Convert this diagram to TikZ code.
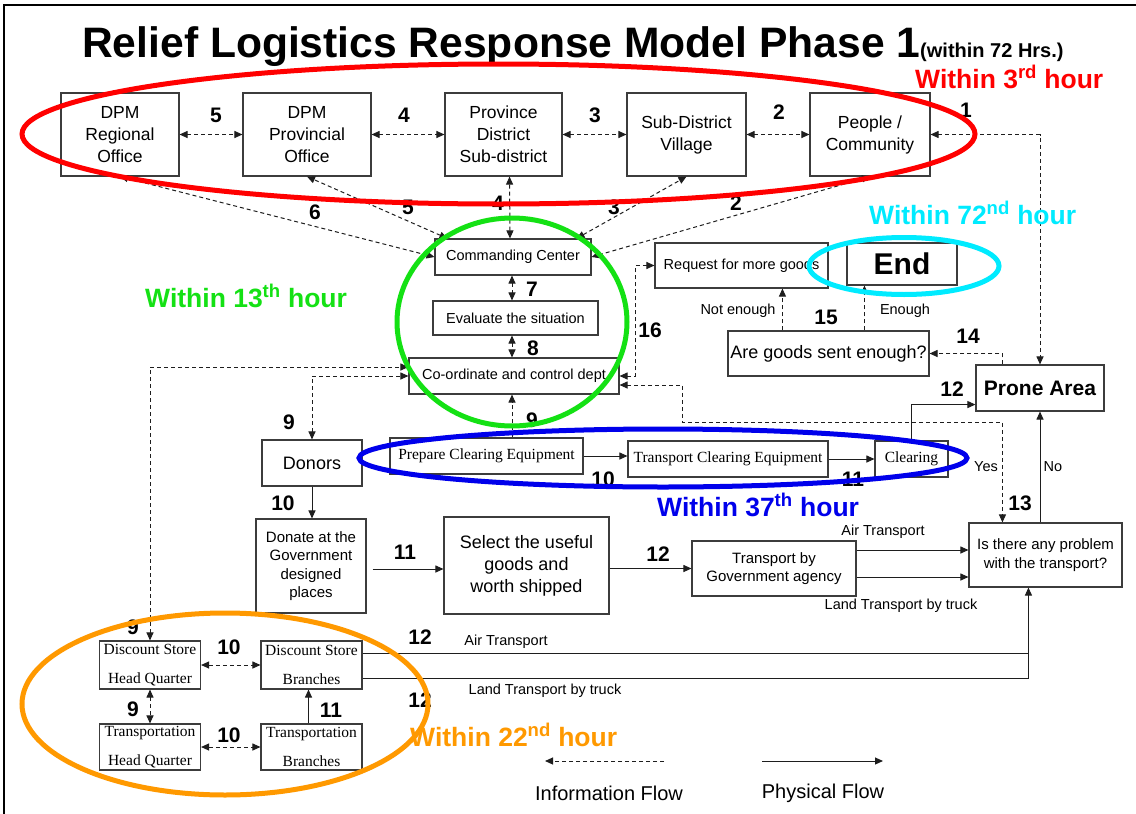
\documentclass[tikz,border=0pt]{standalone}
\usepackage{fontspec}
\setmainfont{Liberation Sans}
\newfontfamily\serifface{Liberation Serif}
\usetikzlibrary{arrows.meta,calc}
\definecolor{boxgray}{RGB}{60,60,60}
\definecolor{lnk}{RGB}{30,30,30}
\definecolor{cRed}{RGB}{255,0,0}
\definecolor{cGreen}{RGB}{20,225,20}
\definecolor{cCyan}{RGB}{0,235,255}
\definecolor{cBlue}{RGB}{0,0,235}
\definecolor{cOrange}{RGB}{255,153,0}
\newcommand\fsz[2]{\fontsize{#1}{#2}\selectfont}
\begin{document}
\begin{tikzpicture}[x=1pt,y=-1pt,
  box/.style={draw=boxgray, line width=1.1pt, fill=white, inner sep=0pt, align=center},
  toptxt/.style={font=\fsz{17.5}{22}},
  smalltxt/.style={font=\fsz{14.5}{18.5}},
  sertxt/.style={font=\serifface\fsz{15.5}{20}},
  num/.style={font=\fsz{21}{24}\bfseries, inner sep=0pt},
  lbl/.style={font=\fsz{14.5}{17}, inner sep=0pt},
  within/.style={font=\fsz{26.5}{30}\bfseries, anchor=base west, inner sep=0pt},
  info/.style={draw=lnk, line width=1pt, dash pattern=on 4pt off 3pt, {Triangle[length=8pt,width=7pt]}-{Triangle[length=8pt,width=7pt]}},
  infoone/.style={draw=lnk, line width=1pt, dash pattern=on 4pt off 3pt, -{Triangle[length=8pt,width=7pt]}},
  phys/.style={draw=lnk, line width=1pt, -{Triangle[length=8pt,width=7pt]}},
  plain/.style={draw=lnk, line width=1pt},
  ring/.style={line width=5pt}
]
\useasboundingbox (0,0) rectangle (1136,814);
\fill[white] (0,0) rectangle (1136,814);
\draw[line width=2pt] (4,814) -- (4,5) -- (1136,5);

% title
\node[anchor=base west, inner sep=0pt, font=\fsz{42.6}{50}\bfseries] (title) at (82,57)
  {Relief Logistics Response Model Phase 1{\fsz{20}{24}(within 72 Hrs.)}};

% top row
\node[box,toptxt,minimum width=118pt,minimum height=83pt] (b1) at (120,134.5) {DPM\\Regional\\Office};
\node[box,toptxt,minimum width=128pt,minimum height=83pt] (b2) at (307,134.5) {DPM\\Provincial\\Office};
\node[box,toptxt,minimum width=117pt,minimum height=83pt] (b3) at (503.5,134.5) {Province\\District\\Sub-district};
\node[box,toptxt,minimum width=119pt,minimum height=83pt] (b4) at (686.5,134.5) {Sub-District\\Village};
\node[box,toptxt,minimum width=120pt,minimum height=83pt] (b5) at (870,134.5) {People /\\Community};

% centre column
\node[box,smalltxt,minimum width=156pt,minimum height=36pt] (cc) at (513,257) {Commanding Center};
\node[box,smalltxt,minimum width=165pt,minimum height=34pt] (ev) at (515.5,318) {Evaluate the situation};
\node[box,smalltxt,minimum width=210pt,minimum height=36pt] (co) at (514,376) {Co-ordinate and control dept};
\node[box,font=\fsz{18}{22},minimum width=100pt,minimum height=46pt] (donors) at (312,463) {Donors};
\node[box,sertxt,minimum width=193pt,minimum height=36pt] (prep) at (486.5,456) {Prepare Clearing Equipment};
\node[box,sertxt,minimum width=200pt,minimum height=36pt] (tce) at (728,459) {Transport Clearing Equipment};
\node[box,sertxt,minimum width=73pt,minimum height=36pt] (clr) at (911.5,459) {Clearing};

% right side
\node[box,smalltxt,minimum width=173pt,minimum height=45pt] (req) at (741.5,265.5) {Request for more goods};
\node[box,font=\fsz{30}{34}\bfseries,minimum width=110pt,minimum height=42pt] (end) at (902,264) {End};
\node[box,font=\fsz{18}{22},minimum width=201pt,minimum height=45pt] (goods) at (828.5,353.5) {Are goods sent enough?};
\node[box,font=\fsz{21}{24}\bfseries,minimum width=128pt,minimum height=46pt] (prone) at (1040,388) {Prone Area};

% lower middle
\node[box,font=\fsz{15}{18.5},minimum width=110pt,minimum height=94pt] (donate) at (311,566) {Donate at the\\Government\\designed\\places};
\node[box,font=\fsz{18}{22},minimum width=165pt,minimum height=97pt] (select) at (526.5,565.5) {Select the useful\\goods and\\worth shipped};
\node[box,font=\fsz{15}{18.5},minimum width=164pt,minimum height=55pt] (tgov) at (774,568.5) {Transport by\\Government agency};
\node[box,font=\fsz{15}{19},minimum width=153pt,minimum height=64pt] (prob) at (1045.5,555) {Is there any problem\\with the transport?};

% bottom-left
\node[box,sertxt,minimum width=101pt,minimum height=48pt] (dshq) at (150,665) {Discount Store\\[9pt]Head Quarter};
\node[box,sertxt,minimum width=101pt,minimum height=48pt] (dsbr) at (311.5,665) {Discount Store\\[9pt]Branches};
\node[box,sertxt,minimum width=101pt,minimum height=46pt] (tshq) at (150,747) {Transportation\\[9pt]Head Quarter};
\node[box,sertxt,minimum width=101pt,minimum height=46pt] (tsbr) at (311.5,747) {Transportation\\[9pt]Branches};

% ---- information flow (dashed)
\draw[info] (b1.east) -- (b2.west);
\draw[info] (b2.east) -- (b3.west);
\draw[info] (b3.east) -- (b4.west);
\draw[info] (b4.east) -- (b5.west);
\draw[info] (b5.east) -| (prone.north);
\draw[info] (cc.west) -- (b1.south);
\draw[info] ($(cc.north west)+(13,0)$) -- (b2.south);
\draw[info] ($(cc.north)+(-3,0)$) -- ($(b3.south)+(6,0)$);
\draw[info] ($(cc.north east)+(-15,0)$) -- (b4.south);
\draw[info] (cc.east) -- (b5.south);
\draw[info] ($(cc.south)+(-1,0)$) -- ($(ev.north -| cc.south)+(-1,0)$);
\draw[info] ($(ev.south -| cc.south)+(-1,0)$) -- ($(co.north -| cc.south)+(-1,0)$);
\draw[infoone] ($(prep.north -| cc.south)+(-1,0)$) -- ($(co.south -| cc.south)+(-1,0)$);
\draw[info] (co.east) -- ++(16,0) |- (req.west);
\coordinate (yesb) at ($(prob.north west)+(34,0)$);
\draw[info] ($(co.east)+(0,9)$) -- ++(63,0) -- ++(0,37) -| (yesb);
\coordinate (p14) at ($(prone.north west)+(27,0)$);
\draw[infoone] (p14) |- (goods.east);
\coordinate (g1) at ($(goods.north west)+(55,0)$);
\coordinate (g2) at ($(goods.north west)+(137,0)$);
\draw[infoone] (g1) -- (g1 |- req.south);
\draw[infoone] (g2) -- (g2 |- end.south);
\draw[info] (dshq.north) |- ($(co.west)+(0,-9)$);
\draw[info] (donors.north) |- (co.west);
\draw[info] (dshq.east) -- (dsbr.west);
\draw[info] (dshq.south) -- (tshq.north);
\draw[info] (tshq.east) -- (tsbr.west);

% ---- physical flow (solid)
\draw[phys] (prep.east) -- (prep.east -| tce.west);
\draw[phys] (tce.east) -- (clr.west);
\draw[phys] (clr.north) |- ($(prone.south west)+(0,-7)$);
\draw[phys] (prob.north -| prone.south) -- (prone.south);
\draw[phys] (donors.south) -- (donors.south |- donate.north);
\draw[phys] ($(donate.east)+(6,3)$) -- ($(select.west)+(0,3.5)$);
\draw[phys] (select.east |- tgov.west) -- (tgov.west);
\coordinate (a1) at ($(tgov.east)+(0,-18.5)$);
\coordinate (a2) at ($(tgov.east)+(0,8.5)$);
\draw[phys] (a1) -- (a1 -| prob.west);
\draw[phys] (a2) -- (a2 -| prob.west);
\coordinate (pc) at ($(prob.south west)+(60,0)$);
\coordinate (d1) at ($(dsbr.east)+(0,-12)$);
\coordinate (d2) at ($(dsbr.east)+(0,13)$);
\draw[plain] (d1) -- (d1 -| pc);
\draw[phys] (d2) -| (pc);
\draw[phys] ($(tsbr.north)+(-3,0)$) -- ($(dsbr.south)+(-3,0)$);

% ---- number labels
\node[num] (n1) at (216,115) {5};
\node[num] (n2) at (404,115) {4};
\node[num] (n3) at (595,115) {3};
\node[num] (n4) at (779,112) {2};
\node[num] (n5) at (966,110) {1};
\node[num] (n6) at (315,212) {6};
\node[num] (n7) at (408,207) {5};
\node[num] (n8) at (498,203) {4};
\node[num] (n9) at (614,207) {3};
\node[num] (n10) at (736,203) {2};
\node[num] (n11) at (532,289) {7};
\node[num] (n12) at (533,348) {8};
\node[num] (n13) at (650,330) {16};
\node[num] (n14) at (289,422) {9};
\node[num] (n15) at (532,420) {9};
\node[num] (n16) at (603,479) {10};
\node[num] (n17) at (853,479) {11};
\node[num] (n18) at (952,389) {12};
\node[num] (n19) at (968,336) {14};
\node[num] (n20) at (826,317) {15};
\node[num] (n21) at (1020,503) {13};
\node[num] (n22) at (283,503) {10};
\node[num] (n23) at (405,552) {11};
\node[num] (n24) at (658,554) {12};
\node[num] (n25) at (420,637) {12};
\node[num] (n26) at (420,700) {12};
\node[num] (n27) at (133,627) {9};
\node[num] (n28) at (229,647) {10};
\node[num] (n29) at (133,709) {9};
\node[num] (n30) at (229,735) {10};
\node[num] (n31) at (331,710) {11};

% ---- small text labels
\node[lbl] (l1) at (738,311) {Not enough};
\node[lbl] (l2) at (905,311) {Enough};
\node[lbl] (l3) at (986,467) {Yes};
\node[lbl] (l4) at (1053,467) {No};
\node[lbl] (l5) at (883,532) {Air Transport};
\node[lbl] (l6) at (901,606) {Land Transport by truck};
\node[lbl] (l7) at (506,642) {Air Transport};
\node[lbl] (l8) at (545,691) {Land Transport by truck};

% ---- legend
\coordinate (lg1) at (545,761);
\coordinate (lg2) at (664,761);
\coordinate (lg3) at (762,761);
\coordinate (lg4) at (883,761);
\draw[infoone] (lg2) -- (lg1);
\draw[phys] (lg3) -- (lg4);
\node[font=\fsz{20}{24}, inner sep=0pt] (leg1) at (609,793) {Information Flow};
\node[font=\fsz{20}{24}, inner sep=0pt] (leg2) at (823,793) {Physical Flow};

% ---- phase rings
\draw[ring, cRed] (498.5,134) ellipse [x radius=476.5pt, y radius=70pt];
\draw[ring, cGreen] (512,322) ellipse [x radius=115pt, y radius=104pt];
\draw[ring, cCyan] (904,266) ellipse [x radius=95pt, y radius=28.5pt];
\draw[ring, cBlue] (663,458) ellipse [x radius=304pt, y radius=29pt];
\draw[ring, cOrange] (225,704) ellipse [x radius=203pt, y radius=91pt];

% ---- phase labels
\node[within, text=cRed] (w3) at (915,88) {Within 3\textsuperscript{rd} hour};
\node[within, text=cCyan] (w72) at (869,224) {Within 72\textsuperscript{nd} hour};
\node[within, text=cGreen] (w13) at (145,307) {Within 13\textsuperscript{th} hour};
\node[within, text=cBlue] (w37) at (657,516) {Within 37\textsuperscript{th} hour};
\node[within, text=cOrange] (w22) at (410,746) {Within 22\textsuperscript{nd} hour};
\end{tikzpicture}
\end{document}
